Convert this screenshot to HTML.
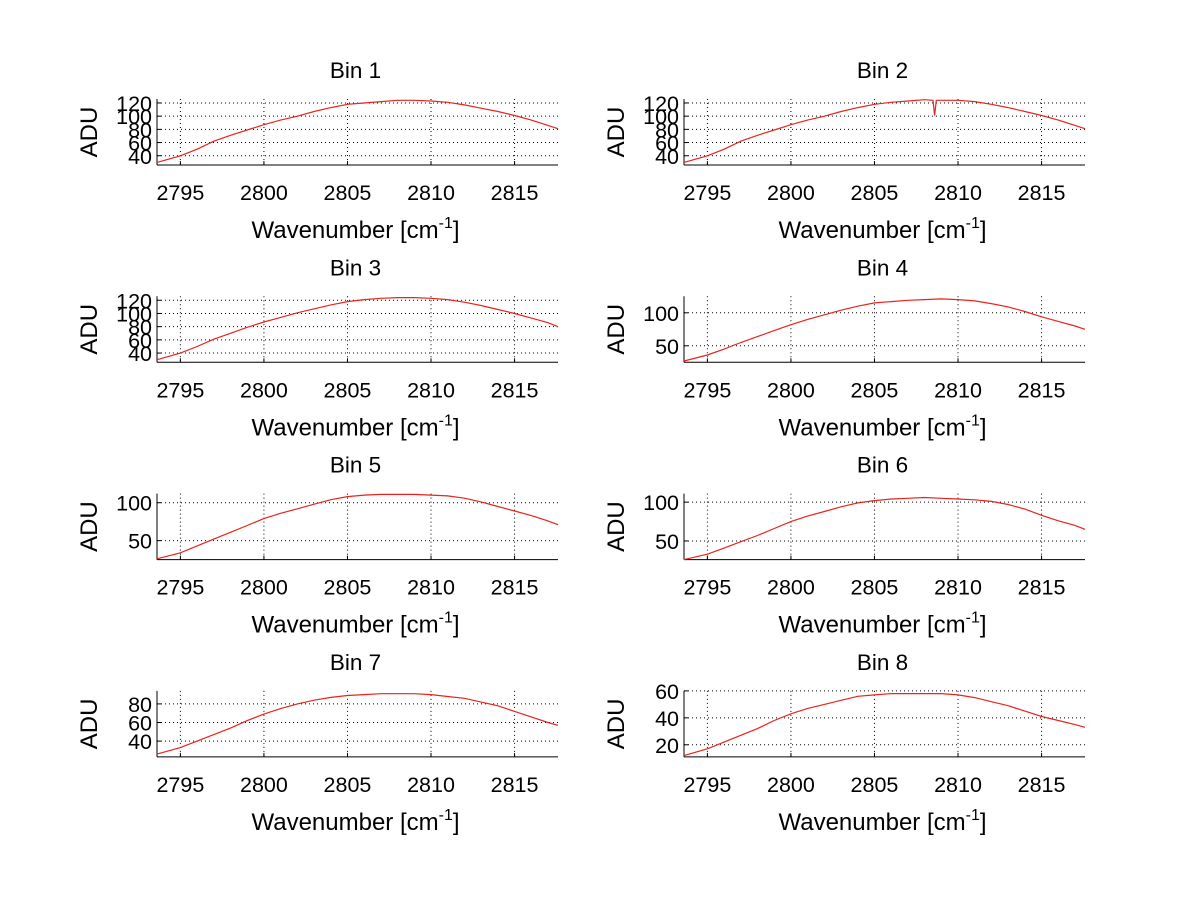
<!DOCTYPE html>
<html><head><meta charset="utf-8"><style>
body{margin:0;background:#fff;}
svg{display:block;font-family:"Liberation Sans",sans-serif;}
</style></head><body>
<svg id="fig" width="1200" height="901"></svg>
<script>
const xs = [2793.6,2795,2796,2797,2798,2799,2800,2801,2802,2803,2804,2805,2806,2807,2808,2809,2810,2811,2812,2813,2814,2815,2816,2817,2817.6];
const bin1 = [30,40,50,62,71,79,87,94,100,107,113,118,120,122,124,124,123,121,117,112,107,101,94,86,81];
const bin2x = [2793.6,2795,2796,2797,2798,2799,2800,2801,2802,2803,2804,2805,2806,2807,2808,2808.5,2808.6,2808.7,2809,2810,2811,2812,2813,2814,2815,2816,2817,2817.6];
const bin2 = [30,40,50,62,71,79,87,94,100,107,113,118,121,123,125,124,101,124,124,124,122,118,113,107,101,94,86,81];
const bin3 = [30,40,50,61,70,79,87,94,101,107,113,118,121,123,124,124,123,121,117,112,106,100,93,86,80];
const bin4 = [27,36,45,55,64,73,82,90,97,104,110,115,117,119,120,121,120,118,114,109,102,94,87,80,75];
const bin5 = [26,34,43,52,61,70,79,86,92,98,104,108,110,111,111,111,110,109,106,101,95,89,83,76,71];
const bin6 = [26,33,41,49,57,66,75,82,88,94,99,102,104,105,106,105,104,103,101,97,91,83,76,70,65];
const bin7 = [26,33,40,47,54,62,69,75,80,84,87,89,90,91,91,91,90,88,86,82,78,72,66,60,57];
const bin8 = [12,17,22,27,32,38,43,47,50,53,56,57,58,58,58,58,57,55,52,49,45,41,38,35,33];
const titles = ["Bin 1","Bin 2","Bin 3","Bin 4","Bin 5","Bin 6","Bin 7","Bin 8"];
const ylims = [[26,126],[26,126],[26,126],[25,125],[25,112],[26,111],[23,94],[11,60]];
const yticks = [[40,60,80,100,120],[40,60,80,100,120],[40,60,80,100,120],[50,100],[50,100],[50,100],[40,60,80],[20,40,60]];
const xticks = [2795,2800,2805,2810,2815];
const series = [[xs,bin1],[bin2x,bin2],[xs,bin3],[xs,bin4],[xs,bin5],[xs,bin6],[xs,bin7],[xs,bin8]];
const XMIN=2793.6, XMAX=2817.6;
const NS="http://www.w3.org/2000/svg";
const svg=document.getElementById('fig');
function mk(t,a,p){const e=document.createElementNS(NS,t);for(const k in a)e.setAttribute(k,a[k]);(p||svg).appendChild(e);return e;}
for(let i=0;i<8;i++){
  const col=i%2,row=Math.floor(i/2);
  const L=col?684:157,R=col?1085:558,B=165+row*197.3,T=B-66;
  const g=mk('g',{});
  
  
  const sx=v=>L+(v-XMIN)/(XMAX-XMIN)*(R-L);
  const sy=v=>B-(v-ylims[i][0])/(ylims[i][1]-ylims[i][0])*(B-T);
  xticks.forEach(t=>{const x=sx(t);
    const gl=mk('line',{x1:x,x2:x,y1:T,y2:B,stroke:'#000','stroke-width':1,'stroke-dasharray':'1,3'},g);
    
    mk('line',{x1:x,x2:x,y1:B,y2:B-4,stroke:'#000'},g);
    const tx=mk('text',{x:x,y:B+35,'font-size':21.5,'text-anchor':'middle'},g);tx.textContent=t;
    });
  yticks[i].forEach(t=>{const y=sy(t);
    const gl=mk('line',{x1:L,x2:R,y1:y,y2:y,stroke:'#000','stroke-width':1,'stroke-dasharray':'1,3'},g);
    
    mk('line',{x1:L,x2:L+4,y1:y,y2:y,stroke:'#000'},g);
    const tx=mk('text',{x:L-5,y:y+8,'font-size':21.5,'text-anchor':'end'},g);tx.textContent=t;
    });
  mk('line',{x1:L,x2:L,y1:T,y2:B,stroke:'#000'},g);
  mk('line',{x1:L,x2:R,y1:B,y2:B,stroke:'#000'},g);
  const [sxArr,syArr]=series[i];
  const pts=sxArr.map((v,k)=>sx(v).toFixed(1)+','+sy(syArr[k]).toFixed(1)).join(' ');
  const pl=mk('polyline',{points:pts,fill:'none',stroke:'#e8241c','stroke-width':1.2},g);
  
  const ti=mk('text',{x:(L+R)/2-2,y:T-21,'font-size':22.5,'text-anchor':'middle'},g);ti.textContent=titles[i];
  
  const yl=mk('text',{x:0,y:0,'font-size':24,'text-anchor':'middle',transform:`translate(${L-60},${(T+B)/2}) rotate(-90)`},g);yl.textContent='ADU';
  
  const xl=mk('text',{x:(L+R)/2-2,y:B+73,'font-size':24,'text-anchor':'middle'},g);
  xl.innerHTML='Wavenumber [cm<tspan dy="-10" font-size="16">-1</tspan><tspan dy="10">]</tspan>';
  
}
</script>
</body></html>
